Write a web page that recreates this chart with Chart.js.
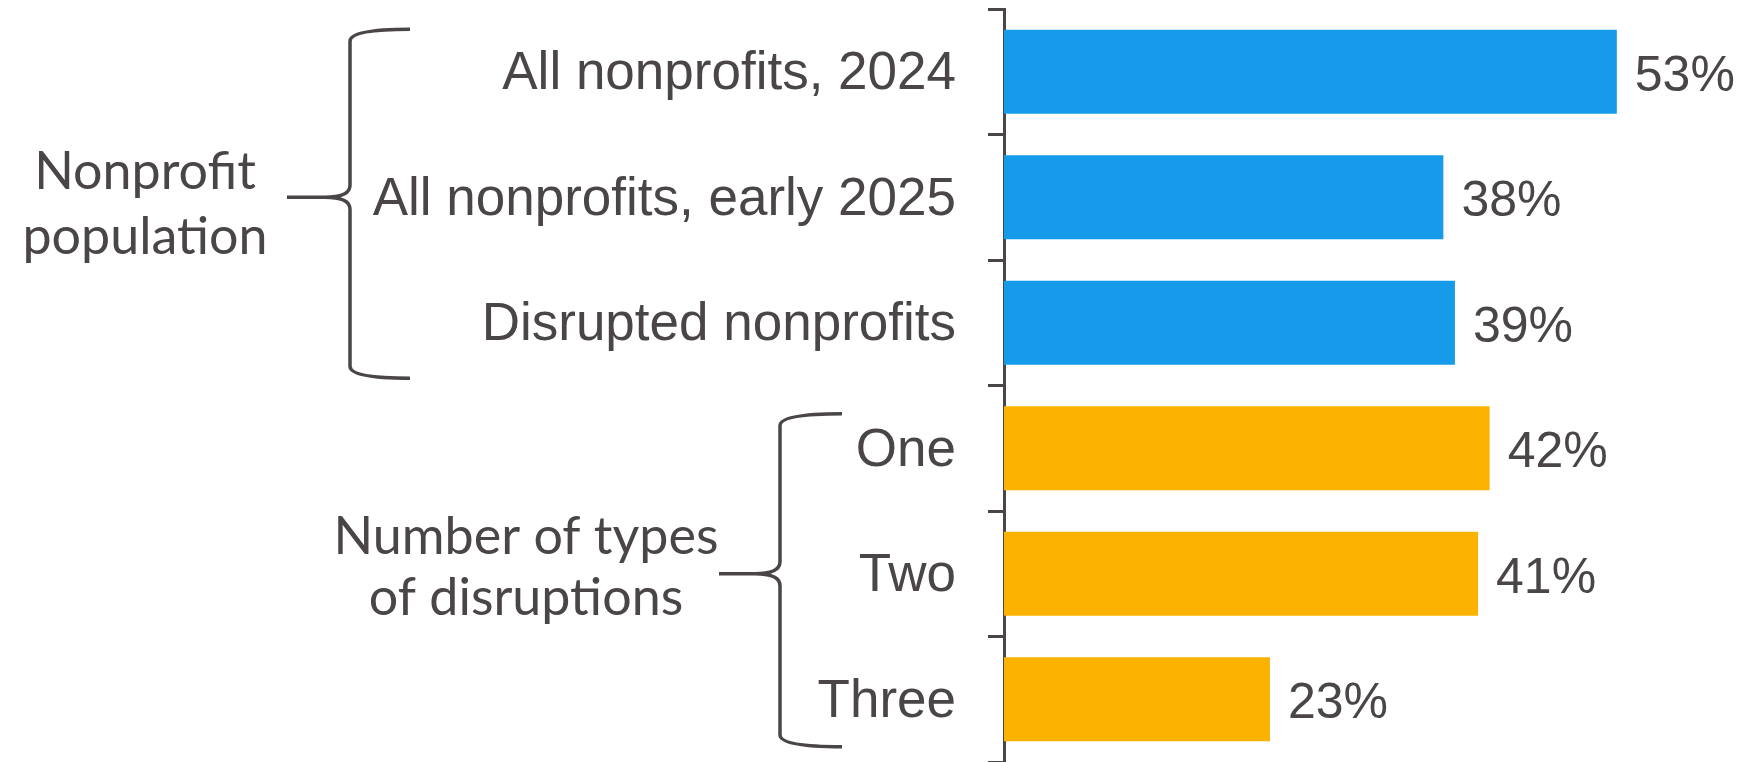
<!DOCTYPE html>
<html>
<head>
<meta charset="utf-8">
<script src="https://cdn.jsdelivr.net/npm/chart.js@4/dist/chart.umd.min.js"></script>
<style>
  html, body { margin: 0; padding: 0; background: #ffffff; }
  #wrap { width: 1744px; height: 762px; }
</style>
</head>
<body>
<div id="wrap"><canvas id="c" width="1744" height="762"></canvas></div>
<script>
// ---- data ----
const categories = [
  "All nonprofits, 2024",
  "All nonprofits, early 2025",
  "Disrupted nonprofits",
  "One",
  "Two",
  "Three"
];
const values = [53, 38, 39, 42, 41, 23];
const groupLabels = [["Nonprofit", "population"], ["Number of types", "of disruptions"]];
const groupStart = [0, 3];
const groupEnd = [2, 5];
const groupColors = ["#169BEB", "#FBB200"];

// ---- styles ----
const TEXT = "#4a4546";
const AXIS = "#4a4546";
const FONT_TICK = "'Liberation Sans', Arial, sans-serif";
const FONT_GROUP = "Lato";
const FS_TICK = 53;
const FS_VALUE = 50;
const FS_GROUP = 52;

const barColors = categories.map((_, i) => {
  for (let g = 0; g < groupStart.length; g++) {
    if (i >= groupStart[g] && i <= groupEnd[g]) return groupColors[g];
  }
  return groupColors[0];
});

// brace geometry (layout only)
const braceStyle = [
  { x: 350, endX: 410, tipX: 287, top: -168, bottom: 181, labelX: 145, labelY: [-25, 40] },
  { x: 780, endX: 842, tipX: 719, top: -160, bottom: 173, labelX: 526, labelY: [-37, 24] }
];

const valueLabels = {
  id: 'valueLabels',
  afterDatasetsDraw(chart) {
    const ctx = chart.ctx;
    const meta = chart.getDatasetMeta(0);
    ctx.save();
    ctx.font = FS_VALUE + "px " + FONT_TICK;
    ctx.fillStyle = TEXT;
    ctx.textAlign = "left";
    ctx.textBaseline = "middle";
    meta.data.forEach((bar, i) => {
      ctx.fillText(values[i] + "%", bar.x + 18, bar.y + 5);
    });
    ctx.restore();
  }
};

const braces = {
  id: 'braces',
  afterDraw(chart) {
    const ctx = chart.ctx;
    const yScale = chart.scales.y;
    ctx.save();
    ctx.strokeStyle = AXIS;
    ctx.lineWidth = 3.5;
    ctx.lineCap = "butt";
    ctx.lineJoin = "round";
    groupLabels.forEach((lines, g) => {
      const s = braceStyle[g];
      const mid = (yScale.getPixelForValue(groupStart[g]) + yScale.getPixelForValue(groupEnd[g])) / 2;
      const top = mid + s.top, bot = mid + s.bottom;
      const x = s.x, r = 12;
      ctx.beginPath();
      ctx.moveTo(s.endX, top);
      ctx.quadraticCurveTo(x, top, x, top + r);
      ctx.lineTo(x, mid - r);
      ctx.quadraticCurveTo(x, mid, x - 25, mid);
      ctx.lineTo(s.tipX, mid);
      ctx.moveTo(x - 25, mid);
      ctx.quadraticCurveTo(x, mid, x, mid + r);
      ctx.lineTo(x, bot - r);
      ctx.quadraticCurveTo(x, bot, s.endX, bot);
      ctx.stroke();
      ctx.font = FS_GROUP + "px " + FONT_GROUP;
      ctx.fillStyle = TEXT;
      ctx.textAlign = "center";
      ctx.textBaseline = "middle";
      lines.forEach((ln, k) => ctx.fillText(ln, s.labelX, mid + s.labelY[k]));
    });
    ctx.restore();
  }
};

new Chart(document.getElementById("c"), {
  type: "bar",
  data: {
    labels: categories,
    datasets: [{
      data: values,
      backgroundColor: barColors,
      borderWidth: 0,
      categoryPercentage: 1.0,
      barPercentage: 0.67
    }]
  },
  options: {
    indexAxis: "y",
    responsive: false,
    animation: false,
    devicePixelRatio: 1,
    layout: { padding: { top: 9, right: 0, bottom: 0, left: 0 } },
    plugins: { legend: { display: false }, tooltip: { enabled: false } },
    scales: {
      x: { display: false, min: 0, max: 64 },
      y: {
        z: 1,
        offset: true,
        afterFit(scale) {
          scale.width = 1004;
          scale.paddingTop = 0;
          scale.paddingBottom = 0;
        },
        grid: {
          offset: true,
          drawOnChartArea: false,
          drawTicks: true,
          tickLength: 16,
          color: AXIS,
          lineWidth: 3
        },
        border: { display: true, color: AXIS, width: 3 },
        ticks: {
          padding: 32,
          labelOffset: 3,
          color: TEXT,
          font: { family: FONT_TICK, size: FS_TICK }
        }
      }
    }
  },
  plugins: [valueLabels, braces]
});
</script>
</body>
</html>
